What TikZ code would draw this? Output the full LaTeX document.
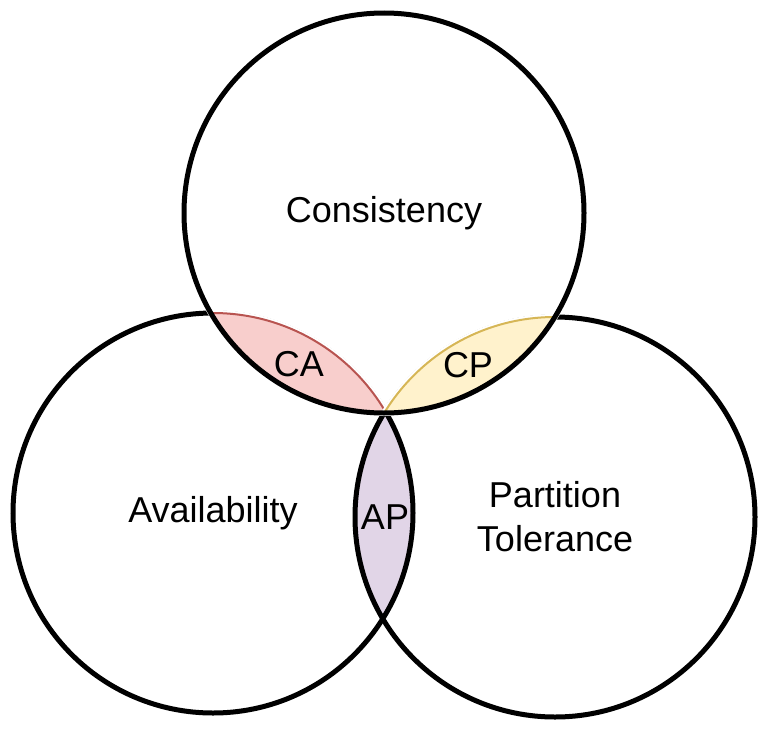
\documentclass[tikz,border=0pt]{standalone}
\usepackage{fontspec}
\setmainfont{Liberation Sans}
\usepackage{tikz}

\definecolor{caFill}{HTML}{F8CECC}
\definecolor{caLine}{HTML}{B85450}
\definecolor{cpFill}{HTML}{FFF2CC}
\definecolor{cpLine}{HTML}{D6B656}
\definecolor{apFill}{HTML}{E1D5E7}
\definecolor{apLine}{HTML}{9673A6}

\begin{document}
\begin{tikzpicture}[x=1pt, y=-1pt,
    set/.style={draw, circle, line width=5pt, minimum size=400pt, inner sep=0pt, align=center, font=\fontsize{36}{44}\selectfont},
    pair/.style={inner sep=0pt, font=\fontsize{36}{44}\selectfont}]
    \useasboundingbox (0,0) rectangle (776,728);

    \coordinate (cc) at (384,213);
    \coordinate (ac) at (213,513);
    \coordinate (pc) at (555,517);

    % AP lies under both lower circles
    \begin{scope}
        \clip (ac) circle[radius=200pt];
        \fill[apFill] (pc) circle[radius=200pt];
    \end{scope}

    \node[set] (avail) at (ac) {Availability};
    \node[set] (part) at (pc) {Partition\\Tolerance};

    % CA
    \begin{scope}
        \clip (cc) circle[radius=203pt];
        \fill[white] (ac) circle[radius=203pt];
    \end{scope}
    \begin{scope}
        \clip (cc) circle[radius=200pt];
        \filldraw[fill=caFill, draw=caLine, line width=2pt] (ac) circle[radius=200pt];
    \end{scope}

    % CP
    \begin{scope}
        \clip (cc) circle[radius=203pt];
        \fill[white] (pc) circle[radius=203pt];
    \end{scope}
    \begin{scope}
        \clip (cc) circle[radius=200pt];
        \filldraw[fill=cpFill, draw=cpLine, line width=2pt] (pc) circle[radius=200pt];
    \end{scope}

    \node[set] (cons) at (cc) {Consistency};

    \node[pair] (ca) at (299,364) {CA};
    \node[pair] (cp) at (468,365) {CP};
    \node[pair] (ap) at (385,517) {AP};
\end{tikzpicture}
\end{document}
